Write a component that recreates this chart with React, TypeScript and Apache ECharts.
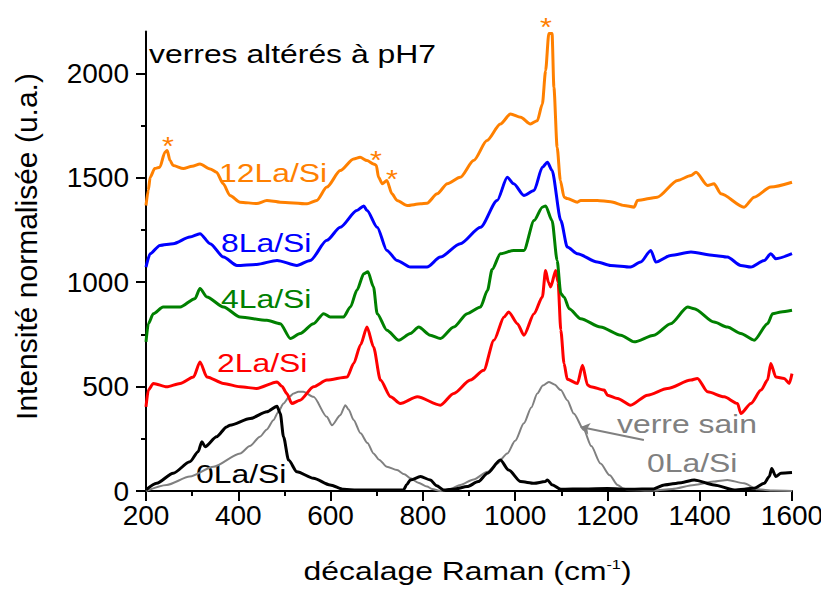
import React, { useEffect, useRef } from "react";
import * as echarts from "echarts";

// ---- data ----
const yMajorTicks = [0, 500, 1000, 1500, 2000];
const yMinorTicks = [250, 750, 1250, 1750];

const grayX = [200, 245, 295, 346, 404, 425, 447, 462, 476, 487, 498, 510, 520, 530, 541, 563, 592, 603, 621, 632, 639, 650, 665, 680, 693, 705, 722, 744, 760, 773, 790, 809, 820, 838, 860, 881, 910, 940, 960, 983, 1000, 1019, 1035, 1048, 1060, 1073, 1085, 1099, 1113, 1127, 1149, 1165, 1185, 1205, 1222, 1235, 1243, 1300, 1340, 1388, 1430, 1460, 1496, 1525, 1560, 1600];
const grayY = [0, 29, 69, 116, 180, 215, 260, 295, 339, 380, 419, 450, 467, 475, 475, 451, 355, 315, 363, 411, 390, 340, 276, 230, 180, 150, 116, 100, 80, 61, 40, 21, 10, 0, 10, 29, 55, 92, 130, 180, 240, 324, 400, 467, 505, 522, 510, 483, 435, 371, 292, 215, 132, 75, 29, 12, 5, 2, 10, 29, 45, 53, 37, 8, 2, 0];

const blackX = [200, 223, 259, 295, 313, 321, 328, 353, 375, 382, 426, 462, 484, 491, 498, 509, 527, 563, 599, 628, 657, 700, 758, 765, 773, 795, 816, 830, 845, 870, 896, 920, 940, 968, 986, 1012, 1041, 1065, 1070, 1080, 1099, 1150, 1200, 1250, 1300, 1323, 1360, 1388, 1431, 1475, 1518, 1540, 1551, 1556, 1565, 1576, 1600];
const blackY = [5, 37, 85, 140, 188, 236, 212, 260, 307, 315, 347, 379, 406, 371, 260, 148, 92, 61, 29, 8, 5, 5, 5, 30, 53, 69, 53, 25, 5, 10, 21, 45, 85, 148, 100, 45, 37, 45, 53, 30, 8, 10, 12, 8, 10, 29, 40, 53, 29, 5, 13, 37, 70, 108, 69, 85, 88];

const redX = [200, 205, 216, 245, 274, 303, 317, 332, 368, 404, 440, 484, 495, 505, 516, 534, 563, 592, 636, 650, 665, 679, 693, 708, 730, 751, 788, 838, 867, 903, 932, 954, 976, 986, 1005, 1019, 1041, 1059, 1066, 1072, 1077, 1088, 1093, 1099, 1106, 1113, 1135, 1146, 1157, 1164, 1193, 1200, 1222, 1250, 1287, 1330, 1381, 1395, 1417, 1453, 1482, 1489, 1511, 1533, 1547, 1554, 1565, 1583, 1594, 1600];
const redY = [403, 483, 515, 499, 515, 546, 618, 546, 515, 499, 491, 522, 500, 467, 419, 435, 499, 531, 546, 610, 700, 785, 690, 531, 451, 419, 451, 411, 467, 531, 578, 722, 833, 857, 801, 746, 849, 929, 1056, 1000, 977, 1056, 1000, 770, 610, 535, 515, 602, 507, 499, 483, 459, 443, 411, 459, 491, 531, 539, 475, 451, 419, 371, 419, 483, 531, 610, 546, 539, 515, 562];

const greenX = [200, 205, 216, 237, 274, 306, 317, 332, 368, 404, 462, 491, 513, 534, 563, 585, 599, 628, 643, 657, 672, 681, 693, 701, 722, 748, 773, 791, 816, 838, 867, 896, 925, 940, 950, 968, 997, 1019, 1041, 1059, 1066, 1080, 1091, 1099, 1106, 1117, 1142, 1185, 1229, 1258, 1301, 1337, 1374, 1388, 1431, 1460, 1489, 1518, 1547, 1558, 1576, 1600];
const greenY = [714, 801, 849, 881, 881, 921, 969, 929, 881, 833, 817, 801, 730, 754, 801, 849, 833, 833, 881, 961, 1040, 1050, 977, 849, 770, 722, 754, 785, 746, 730, 785, 849, 881, 960, 1060, 1136, 1152, 1152, 1295, 1359, 1365, 1295, 1104, 945, 929, 873, 825, 785, 746, 714, 746, 801, 881, 873, 809, 785, 754, 722, 801, 849, 857, 865];

const blueX = [200, 209, 230, 259, 295, 317, 339, 368, 397, 440, 484, 527, 556, 592, 621, 657, 672, 679, 701, 722, 744, 773, 809, 838, 881, 925, 961, 983, 997, 1019, 1041, 1059, 1070, 1080, 1099, 1113, 1135, 1178, 1207, 1250, 1272, 1294, 1305, 1337, 1381, 1431, 1460, 1489, 1511, 1540, 1554, 1565, 1600];
const blueY = [1072, 1136, 1176, 1184, 1216, 1232, 1184, 1120, 1080, 1085, 1104, 1080, 1104, 1200, 1263, 1343, 1365, 1343, 1263, 1152, 1104, 1072, 1072, 1120, 1184, 1263, 1391, 1502, 1471, 1415, 1439, 1550, 1574, 1534, 1295, 1168, 1136, 1096, 1080, 1072, 1096, 1152, 1096, 1128, 1144, 1128, 1120, 1080, 1072, 1104, 1136, 1112, 1136];

const orangeX = [200, 205, 209, 219, 230, 241, 246, 252, 259, 281, 300, 317, 339, 353, 367, 382, 404, 440, 462, 491, 549, 570, 592, 621, 650, 664, 679, 693, 699, 704, 712, 722, 733, 744, 766, 795, 809, 831, 853, 881, 910, 939, 968, 990, 1012, 1033, 1048, 1059, 1066, 1073, 1080, 1084, 1091, 1098, 1106, 1113, 1135, 1142, 1178, 1207, 1236, 1258, 1265, 1308, 1352, 1381, 1392, 1417, 1431, 1446, 1496, 1518, 1554, 1600];
const orangeY = [1367, 1440, 1502, 1544, 1550, 1622, 1630, 1582, 1558, 1544, 1555, 1566, 1542, 1526, 1472, 1415, 1383, 1376, 1391, 1383, 1375, 1391, 1455, 1534, 1590, 1598, 1582, 1566, 1560, 1502, 1471, 1487, 1423, 1391, 1367, 1375, 1378, 1423, 1471, 1502, 1582, 1678, 1757, 1805, 1789, 1757, 1773, 1853, 2012, 2190, 2190, 1933, 1646, 1487, 1407, 1400, 1383, 1391, 1391, 1385, 1367, 1359, 1391, 1407, 1487, 1510, 1526, 1463, 1471, 1423, 1359, 1407, 1455, 1478];

// arrow from "verre sain" label to the gray curve (data coordinates)
const arrowFrom = [1279, 244];
const arrowTo = [1142, 306];

const FONT = '"Liberation Sans", Arial, Helvetica, sans-serif';

const pairs = (xs: number[], ys: number[]) => xs.map((x, i) => [x, ys[i]]);

export default function App() {
  const ref = useRef<HTMLDivElement>(null);

  useEffect(() => {
    if (!ref.current) return;
    const chart = echarts.init(ref.current, undefined, { renderer: "svg" });

    const mkLine = (name: string, xs: number[], ys: number[], color: string, width: number, extra: any = {}) => ({
      name,
      type: "line",
      data: pairs(xs, ys),
      showSymbol: false,
      symbol: "none",
      smooth: 0.25,
      smoothMonotone: "x",
      clip: true,
      lineStyle: { color, width, join: "round" },
      itemStyle: { color },
      emphasis: { disabled: true },
      silent: true,
      ...extra,
    });

    const lbl = (text: string, x: number, y: number, color: string) => ({
      type: "text",
      x,
      y,
      scaleX: 1.25,
      silent: true,
      style: { text, fill: color, fontSize: 25.5, fontFamily: FONT, align: "left", verticalAlign: "middle" },
    });
    const star = (cx: number, cy: number) => ({
      type: "text",
      x: cx,
      y: cy + 6,
      scaleX: 1.2,
      silent: true,
      style: { text: "*", fill: "#ff8000", fontSize: 25.5, fontFamily: FONT, align: "center", verticalAlign: "middle" },
    });

    const tickStyle = { color: "#000000", width: 2 };

    chart.setOption({
      animation: false,
      backgroundColor: "#ffffff",
      grid: { left: 146, right: 37, top: 31.5, bottom: 103, containLabel: false },
      xAxis: {
        type: "value",
        min: 200,
        max: 1600,
        interval: 200,
        axisLine: { show: true, lineStyle: { color: "#000", width: 2 } },
        axisTick: { show: true, inside: false, length: 10, lineStyle: tickStyle },
        minorTick: { show: true, splitNumber: 2, length: 5, lineStyle: tickStyle },
        axisLabel: { color: "#000", fontSize: 28, fontFamily: FONT, margin: 10, formatter: (v: number) => String(v) },
        splitLine: { show: false },
        minorSplitLine: { show: false },
      },
      yAxis: [
        {
          type: "value",
          position: "left",
          min: 0,
          max: 2200,
          interval: 500,
          axisLine: { show: true, lineStyle: { color: "#000", width: 2 } },
          axisTick: { show: true, inside: false, length: 10, customValues: yMajorTicks, lineStyle: tickStyle },
          axisLabel: {
            color: "#000",
            fontSize: 28,
            fontFamily: FONT,
            margin: 17,
            customValues: yMajorTicks,
            formatter: (v: number) => (v > 2000 ? "" : String(v)),
          },
          splitLine: { show: false },
        },
        {
          type: "value",
          position: "left",
          offset: 0,
          min: 0,
          max: 2200,
          axisLine: { show: false },
          axisTick: { show: true, inside: false, length: 5, customValues: yMinorTicks, lineStyle: tickStyle },
          axisLabel: { show: false },
          splitLine: { show: false },
        },
      ],
      series: [
        mkLine("verre sain 0La/Si", grayX, grayY, "#808080", 2, {
          markLine: {
            silent: true,
            symbol: ["none", "arrow"],
            symbolSize: 9,
            label: { show: false },
            lineStyle: { color: "#808080", width: 2, type: "solid" },
            data: [[{ coord: arrowFrom }, { coord: arrowTo }]],
          },
        }),
        mkLine("0La/Si", blackX, blackY, "#000000", 3),
        mkLine("2La/Si", redX, redY, "#ff0000", 3),
        mkLine("4La/Si", greenX, greenY, "#008000", 3),
        mkLine("8La/Si", blueX, blueY, "#0000ff", 3),
        mkLine("12La/Si", orangeX, orangeY, "#ff8000", 3),
      ],
      graphic: [
        lbl("verres altérés à pH7", 149, 54.5, "#000000"),
        lbl("12La/Si", 219, 173.2, "#ff8000"),
        lbl("8La/Si", 221, 243, "#0000ff"),
        lbl("4La/Si", 221, 299.5, "#008000"),
        lbl("2La/Si", 217, 363, "#ff0000"),
        lbl("0La/Si", 196, 474.5, "#000000"),
        lbl("verre sain", 617, 424.5, "#808080"),
        lbl("0La/Si", 647, 463, "#808080"),
        star(168, 140),
        star(376, 154),
        star(392, 173),
        star(546, 21),
        {
          type: "text",
          x: 26.3,
          y: 246.5,
          rotation: Math.PI / 2,
          silent: true,
          style: { text: "Intensité normalisée (u.a.)", fill: "#000", fontSize: 30, fontFamily: FONT, align: "center", verticalAlign: "middle" },
        },
        {
          type: "text",
          x: 467.5,
          y: 571,
          scaleX: 1.25,
          silent: true,
          style: {
            text: "décalage Raman (cm{s|-1})",
            fill: "#000",
            fontSize: 25.5,
            fontFamily: FONT,
            align: "center",
            verticalAlign: "middle",
            rich: { s: { fontSize: 13, fontFamily: FONT, fill: "#000", verticalAlign: "top" } },
          },
        },
      ],
    });

    return () => chart.dispose();
  }, []);

  return <div ref={ref} style={{ width: 829, height: 594, margin: -8 }} />;
}
